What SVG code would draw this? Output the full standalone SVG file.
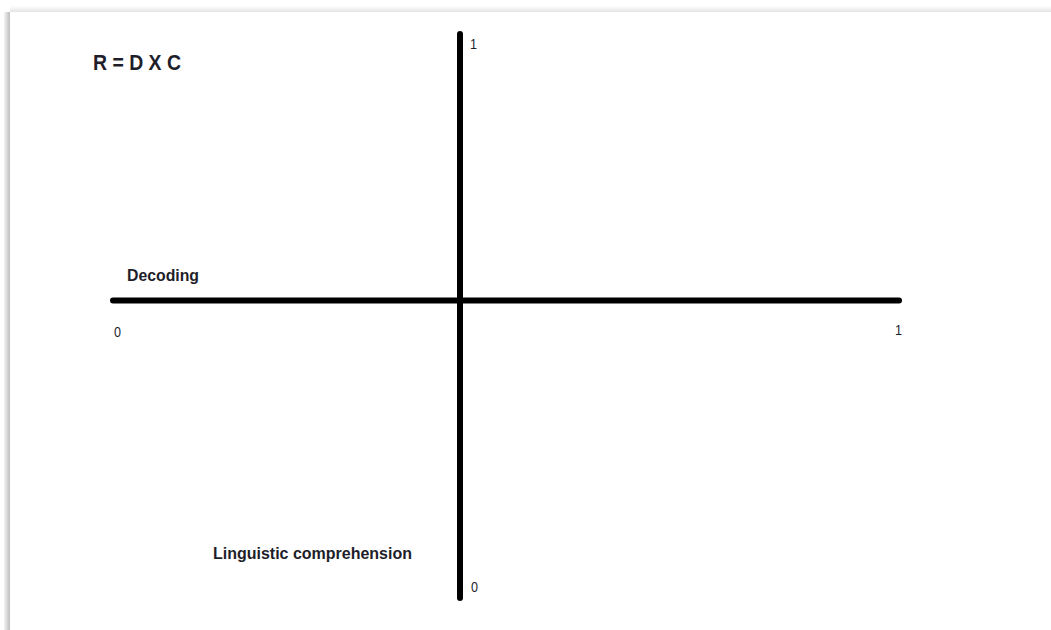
<svg xmlns="http://www.w3.org/2000/svg" width="1051" height="630" viewBox="0 0 1051 630">
<defs>
<linearGradient id="topShadow" x1="0" y1="0" x2="0" y2="1">
<stop offset="0" stop-color="#ffffff"/>
<stop offset="1" stop-color="#e4e4e4"/>
</linearGradient>
<linearGradient id="leftShadow" x1="0" y1="0" x2="1" y2="0">
<stop offset="0" stop-color="#f4f4f4"/>
<stop offset="1" stop-color="#bdbdbd"/>
</linearGradient>
<style>
.axis{stroke:#000;stroke-width:6;stroke-linecap:round;fill:none}
.lbl{font-family:"Liberation Sans",Arial,sans-serif;font-weight:bold;fill:#1e1e2a}
.num{font-family:"Liberation Sans",Arial,sans-serif;font-size:15px;fill:#1e1e2a}
</style>
</defs>
<rect x="0" y="0" width="1051" height="630" fill="#ffffff"/>
<rect x="10" y="6" width="1041" height="6" fill="url(#topShadow)"/>
<rect x="4" y="12" width="6" height="618" fill="url(#leftShadow)"/>
<rect x="10" y="12" width="1041" height="618" fill="#ffffff"/>
<g id="connectors">
<line class="axis" x1="113" y1="300.5" x2="899" y2="300.5"/>
<line class="axis" x1="460" y1="34" x2="460" y2="598"/>
</g>
<g id="formula"><text class="lbl" x="93" y="70" font-size="22" textLength="88" lengthAdjust="spacingAndGlyphs">R = D X C</text></g>
<g id="decoding"><text class="lbl" x="127" y="281" font-size="17" textLength="72" lengthAdjust="spacingAndGlyphs">Decoding</text></g>
<g id="linguistic"><text class="lbl" x="213" y="559" font-size="17" textLength="199" lengthAdjust="spacingAndGlyphs">Linguistic comprehension</text></g>
<g id="tick-x0"><text class="num" x="114" y="337" textLength="7" lengthAdjust="spacingAndGlyphs">0</text></g>
<g id="tick-x1"><text class="num" x="895" y="335" textLength="7" lengthAdjust="spacingAndGlyphs">1</text></g>
<g id="tick-y1"><text class="num" x="470" y="49" textLength="7" lengthAdjust="spacingAndGlyphs">1</text></g>
<g id="tick-y0"><text class="num" x="471" y="592" textLength="7" lengthAdjust="spacingAndGlyphs">0</text></g>
</svg>
